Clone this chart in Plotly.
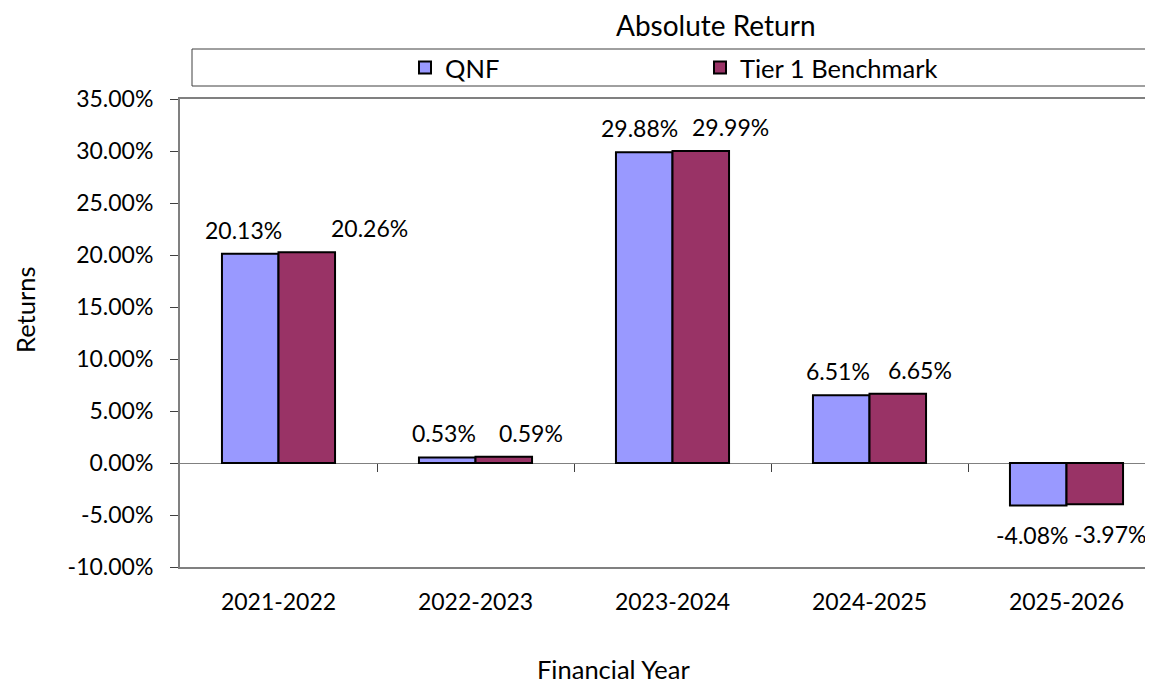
import plotly.graph_objects as go

# ---- data ----
years = ["2021-2022", "2022-2023", "2023-2024", "2024-2025", "2025-2026"]
qnf = [20.13, 0.53, 29.88, 6.51, -4.08]
benchmark = [20.26, 0.59, 29.99, 6.65, -3.97]
series_names = ["QNF", "Tier 1 Benchmark"]
y_ticks = [-10, -5, 0, 5, 10, 15, 20, 25, 30, 35]

# ---- style ----
FONT = "Lato"
FS = 23          # tick labels / data labels
FS_TXT = 25.5    # legend and axis titles
FS_TITLE = 28
QNF_COLOR = "#9999FF"
BENCH_COLOR = "#993366"
AXIS_GREY = "#808080"
OFF = 8          # page body margin
W, H = 1145, 690
ML, MR, MT, MB = 172, 0, 91, 131
PW, PH = W - ML - MR, H - MT - MB

# label horizontal offsets (px from category centre), as placed in the original
qnf_label_dx = [-35, -32, -33, -32, -35]
bench_label_dx = [91, 55, 58, 50, 43]


def px2x(px):
    return (px - OFF - ML) / PW


def px2y(py):
    return (H - MB - (py - OFF)) / PH


def pct(v):
    return f"{v:.2f}%"


fig = go.Figure()
fig.add_trace(go.Bar(
    x=years, y=qnf, name=series_names[0],
    marker=dict(color=QNF_COLOR, line=dict(color="#000000", width=2)),
))
fig.add_trace(go.Bar(
    x=years, y=benchmark, name=series_names[1],
    marker=dict(color=BENCH_COLOR, line=dict(color="#000000", width=2)),
))
# invisible helper trace for the category tick axis crossing at zero
fig.add_trace(go.Scatter(x=[None], y=[None], xaxis="x2", showlegend=False,
                         hoverinfo="skip", mode="markers"))

annotations = []
for i, yr in enumerate(years):
    for vals, dxs in ((qnf, qnf_label_dx), (benchmark, bench_label_dx)):
        v = vals[i]
        annotations.append(dict(
            x=yr, y=v, xref="x", yref="y", text=pct(v), showarrow=False,
            xanchor="center", yanchor="middle",
            xshift=dxs[i], yshift=24 if v >= 0 else -30,
            font=dict(family=FONT, size=FS, color="#000"),
        ))

annotations += [
    dict(text="Absolute Return", x=px2x(716), y=px2y(25), xref="paper", yref="paper",
         showarrow=False, xanchor="center", yanchor="middle",
         font=dict(family=FONT, size=FS_TITLE, color="#000")),
    dict(text="Returns", x=px2x(25), y=px2y(310), xref="paper", yref="paper",
         showarrow=False, xanchor="center", yanchor="middle", textangle=-90,
         font=dict(family=FONT, size=FS_TXT, color="#000")),
    dict(text="Financial Year", x=px2x(613), y=px2y(669), xref="paper", yref="paper",
         showarrow=False, xanchor="center", yanchor="middle",
         font=dict(family=FONT, size=FS_TXT, color="#000")),
]

xrange = [-0.5, PW / 197.0 - 0.5]

fig.update_layout(
    width=W, height=H,
    margin=dict(l=ML, r=MR, t=MT, b=MB, pad=0),
    paper_bgcolor="white", plot_bgcolor="white",
    font=dict(family=FONT, size=FS, color="#000"),
    barmode="group", bargap=0.426, bargroupgap=0,
    showlegend=True,
    legend=dict(
        orientation="h", x=px2x(405), y=px2y(68), xanchor="left", yanchor="middle",
        xref="paper", yref="paper",
        bgcolor="rgba(0,0,0,0)", borderwidth=0,
        font=dict(family=FONT, size=FS_TXT, color="#000"),
        entrywidth=250, entrywidthmode="pixels", itemwidth=30,
        traceorder="normal",
    ),
    xaxis=dict(
        type="category", categoryorder="array", categoryarray=years,
        range=xrange, showline=True, mirror=True, linecolor=AXIS_GREY, linewidth=2,
        ticks="", showgrid=False, zeroline=False, ticklabelstandoff=13,
        tickfont=dict(family=FONT, size=FS, color="#000"),
    ),
    xaxis2=dict(
        overlaying="x", anchor="free", position=10 / 45, range=xrange,
        tickvals=[0.5, 1.5, 2.5, 3.5], ticks="outside", ticklen=8, tickwidth=1,
        tickcolor="#404040", showticklabels=False, showgrid=False, zeroline=False,
        showline=False,
    ),
    yaxis=dict(
        range=[-10, 35], tickvals=y_ticks, ticktext=[pct(v) for v in y_ticks],
        showline=True, linecolor=AXIS_GREY, linewidth=2, mirror=False,
        ticks="outside", ticklen=8, tickwidth=1, tickcolor="#404040",
        showgrid=False, zeroline=True, zerolinecolor=AXIS_GREY, zerolinewidth=1,
        ticklabelstandoff=12,
        tickfont=dict(family=FONT, size=FS, color="#000"),
    ),
    annotations=annotations,
    shapes=[dict(type="rect", xref="paper", yref="paper",
                 x0=px2x(192), x1=px2x(1147), y0=px2y(86), y1=px2y(49),
                 line=dict(color="#404040", width=1), fillcolor="rgba(0,0,0,0)",
                 layer="below")],
)

fig.write_html("out.html")
